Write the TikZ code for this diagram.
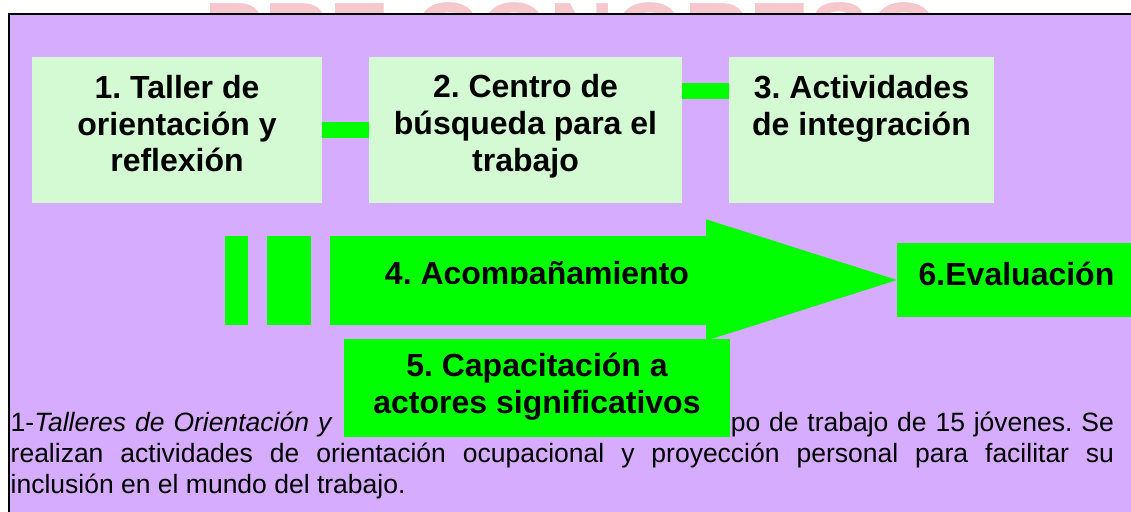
\documentclass[tikz,border=0pt]{standalone}
\usepackage{fontspec}
\setmainfont{Liberation Sans}
\frenchspacing
\definecolor{lav}{RGB}{214,172,255}
\definecolor{pale}{RGB}{211,250,211}
\definecolor{grn}{RGB}{0,255,0}
\definecolor{wmpink}{RGB}{245,200,206}
\tikzset{
  pbox/.style={fill=pale, draw=none, inner sep=0pt},
  gbox/.style={fill=grn, draw=none, inner sep=0pt},
  gbar/.style={draw=grn, line width=16pt},
  btext/.style={inner sep=0pt, align=center, font=\bfseries\fontsize{32}{36.8}\selectfont},
  body/.style={inner sep=0pt, font=\fontsize{26.5}{30}\selectfont},
  wmtext/.style={inner sep=0pt, text=wmpink, font=\bfseries\fontsize{90}{100}\selectfont}
}
\begin{document}
\begin{tikzpicture}[x=1pt,y=-1pt]
\useasboundingbox (0,0) rectangle (1131,511);
\clip (0,0) rectangle (1131,511);
\fill[white] (0,0) rectangle (1131,511);
% watermark
\node[wmtext, anchor=base] (wm) at (572,66) {PRE CONGRESO};
% frame
\draw[line width=2pt, fill=lav] (9.2,13.8) rectangle (1160,540);
% top row boxes
\node[pbox, minimum width=290pt, minimum height=146pt] (b1) at (177,130) {};
\node[pbox, minimum width=313pt, minimum height=146pt] (b2) at (525.5,130) {};
\node[pbox, minimum width=265pt, minimum height=146pt] (b3) at (861.5,130) {};
\node[btext, anchor=north] (t1) at (177,75) {1. Taller de\\orientación y\\reflexión};
\node[btext, anchor=north] (t2) at (525.5,74.5) {2. Centro de\\búsqueda para el\\trabajo};
\node[btext, anchor=north] (t3) at (861.5,75) {3. Actividades\\de integración};
% connectors
\draw[gbar] (b1.east) -- (b2.west);
\draw[gbar] ([yshift=39pt]b2.east) -- ([yshift=39pt]b3.west);
% second row
\node[gbox, minimum width=23pt, minimum height=89pt] (s1) at (236.5,280.5) {};
\node[gbox, minimum width=44pt, minimum height=89pt] (s2) at (289,280.5) {};
\fill[grn] (330,236) -- (706,236) -- (706,219.3) -- (897,280) -- (706,340.7) -- (706,325) -- (330,325) -- cycle;
\coordinate (tip) at (897,280);
\begin{scope}
\clip (330,200) rectangle (900,283.5);
\node[btext, anchor=base] (t4) at (537,284.5) {4. Acompañamiento};
\end{scope}
\node[gbox, minimum width=244pt, minimum height=74pt, anchor=west] (b6) at (tip) {};
\node[btext, anchor=base] (t6) at (1016.5,285) {6.Evaluación};
% body text
\node[body, anchor=base west] (l1a) at (10.5,431) {\makebox[322pt][s]{1-\textit{Talleres de Orientación y}}};
\node[body, anchor=base east] (l1b) at (1114,431) {\makebox[383pt][s]{po de trabajo de 15 jóvenes. Se}};
\node[body, anchor=base west] (l2) at (10.5,462) {\makebox[1103.5pt][s]{realizan actividades de orientación ocupacional y proyección personal para facilitar su}};
\node[body, anchor=base west] (l3) at (10.5,493) {inclusión en el mundo del trabajo.};
% box 5
\node[gbox, minimum width=386pt, minimum height=98pt] (b5) at (537,388) {};
\node[btext, anchor=north] (t5) at (537,352.6) {5. Capacitación a\\actores significativos};
\end{tikzpicture}
\end{document}
